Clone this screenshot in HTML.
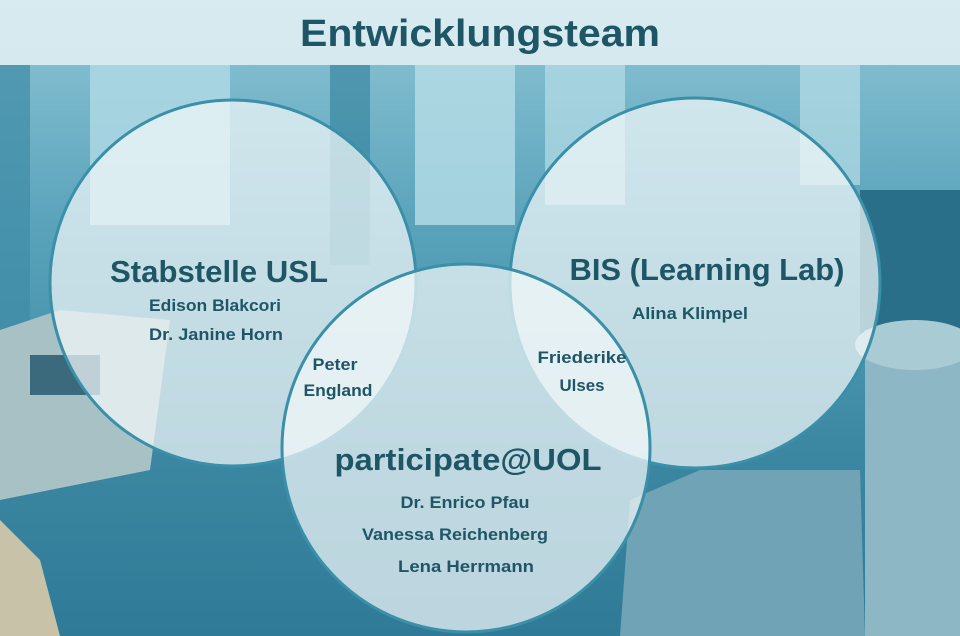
<!DOCTYPE html>
<html><head><meta charset="utf-8"><style>
html,body{margin:0;padding:0;width:960px;height:636px;overflow:hidden;}
</style></head><body>
<svg width="960" height="636" viewBox="0 0 960 636" xmlns="http://www.w3.org/2000/svg" font-family="Liberation Sans, sans-serif" font-weight="bold">
<defs>
<linearGradient id="bg" x1="0" y1="0" x2="0" y2="1">
<stop offset="0" stop-color="#8fc6d6"/>
<stop offset="0.35" stop-color="#5aa3bb"/>
<stop offset="0.7" stop-color="#3c88a3"/>
<stop offset="1" stop-color="#2f7a96"/>
</linearGradient>
</defs>
<rect width="960" height="636" fill="url(#bg)"/>
<rect x="90" y="65" width="140" height="160" fill="#b2dbe6" opacity="0.8"/>
<rect x="415" y="65" width="100" height="160" fill="#b7dde7" opacity="0.8"/>
<rect x="545" y="65" width="80" height="140" fill="#b7dde7" opacity="0.7"/>
<rect x="800" y="65" width="60" height="120" fill="#b7dde7" opacity="0.7"/>
<rect x="330" y="65" width="40" height="200" fill="#2f7e99" opacity="0.6"/>
<rect x="0" y="65" width="30" height="400" fill="#3f8aa5" opacity="0.7"/>
<rect x="860" y="190" width="100" height="150" fill="#2a6f8a"/>
<rect x="865" y="330" width="95" height="306" fill="#8db7c4"/>
<ellipse cx="915" cy="345" rx="60" ry="25" fill="#a9cbd4"/>
<path d="M620 636 L630 500 L700 470 L860 470 L865 636Z" fill="#6fa3b5"/>
<path d="M0 330 L60 310 L170 320 L150 470 L0 500Z" fill="#a7c1c5"/>
<path d="M0 520 L40 560 L60 636 L0 636Z" fill="#c7c2a8"/>
<rect x="30" y="355" width="70" height="40" fill="#1f5468" opacity="0.8"/>
<rect x="0" y="0" width="960" height="65" fill="#e4f1f5" opacity="0.85"/>
<text x="480" y="46" text-anchor="middle" font-size="38" fill="#1e5666" textLength="360" lengthAdjust="spacingAndGlyphs">Entwicklungsteam</text>
<g fill="#f2f8fa" fill-opacity="0.72" stroke="#3a8fa9" stroke-width="3">
<circle cx="233" cy="283" r="183"/>
<circle cx="695" cy="283" r="185"/>
<circle cx="466" cy="448" r="184"/>
</g>
<g fill="#1e5666">
<text x="219" y="282" text-anchor="middle" font-size="31" textLength="218" lengthAdjust="spacingAndGlyphs">Stabstelle USL</text>
<text x="215" y="311" text-anchor="middle" font-size="17" textLength="132" lengthAdjust="spacingAndGlyphs">Edison Blakcori</text>
<text x="216" y="340" text-anchor="middle" font-size="17" textLength="134" lengthAdjust="spacingAndGlyphs">Dr. Janine Horn</text>
<text x="707" y="280" text-anchor="middle" font-size="31" textLength="275" lengthAdjust="spacingAndGlyphs">BIS (Learning Lab)</text>
<text x="690" y="319" text-anchor="middle" font-size="17" textLength="116" lengthAdjust="spacingAndGlyphs">Alina Klimpel</text>
<text x="335" y="370" text-anchor="middle" font-size="17" textLength="45" lengthAdjust="spacingAndGlyphs">Peter</text>
<text x="338" y="396" text-anchor="middle" font-size="17" textLength="69" lengthAdjust="spacingAndGlyphs">England</text>
<text x="582" y="363" text-anchor="middle" font-size="17" textLength="89" lengthAdjust="spacingAndGlyphs">Friederike</text>
<text x="582" y="391" text-anchor="middle" font-size="17" textLength="45" lengthAdjust="spacingAndGlyphs">Ulses</text>
<text x="468" y="470" text-anchor="middle" font-size="31" textLength="267" lengthAdjust="spacingAndGlyphs">participate@UOL</text>
<text x="465" y="508" text-anchor="middle" font-size="17" textLength="129" lengthAdjust="spacingAndGlyphs">Dr. Enrico Pfau</text>
<text x="455" y="540" text-anchor="middle" font-size="17" textLength="186" lengthAdjust="spacingAndGlyphs">Vanessa Reichenberg</text>
<text x="466" y="572" text-anchor="middle" font-size="17" textLength="136" lengthAdjust="spacingAndGlyphs">Lena Herrmann</text>
</g>
</svg>
</body></html>
